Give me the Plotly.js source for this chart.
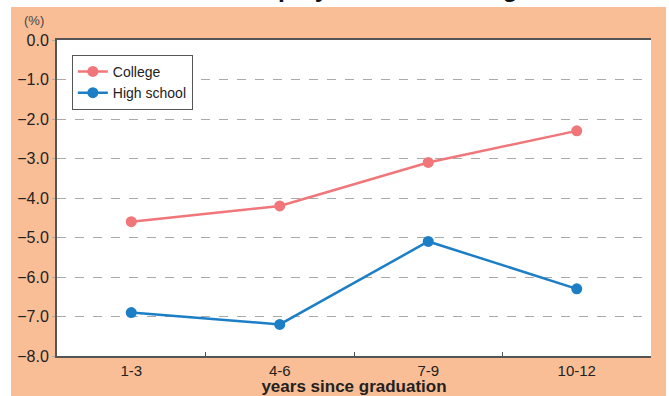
<!DOCTYPE html>
<html><head><meta charset="utf-8">
<script src="https://cdn.plot.ly/plotly-3.0.1.min.js"></script>
<style>body{margin:0;padding:0;background:#fff}#chart{width:669px;height:396px}</style>
</head><body><div id="chart"></div>
<script>
const categories = ["1-3", "4-6", "7-9", "10-12"];
const seriesNames = ["College", "High school"];
const college = [-4.6, -4.2, -3.1, -2.3];
const highSchool = [-6.9, -7.2, -5.1, -6.3];
const yTicks = [0, -1, -2, -3, -4, -5, -6, -7, -8];

const orange = "#FABE96";
const traces = [
  {x: categories, y: college, name: seriesNames[0], type: "scatter", mode: "lines+markers",
   line: {color: "#F0767A", width: 2.5}, marker: {color: "#F0767A", size: 11}},
  {x: categories, y: highSchool, name: seriesNames[1], type: "scatter", mode: "lines+markers",
   line: {color: "#1C7FC6", width: 2.5}, marker: {color: "#1C7FC6", size: 11}}
];
const font = "Liberation Sans, Arial, sans-serif";
const layout = {
  width: 669, height: 396,
  margin: {l: 57, r: 18, t: 40, b: 40},
  paper_bgcolor: "#ffffff",
  plot_bgcolor: "rgba(0,0,0,0)",
  font: {family: font, color: "#222"},
  showlegend: true,
  legend: {x: 0.025, y: 0.953, xanchor: "left", yanchor: "top", bgcolor: "#fff",
           bordercolor: "#555", borderwidth: 1, font: {size: 14, color: "#222"},
           tracegroupgap: 0, itemwidth: 30},
  xaxis: {type: "category", range: [-0.5, 3.5], showgrid: false, showline: true, linecolor: "#555", linewidth: 2,
          mirror: true, ticks: "inside", tickson: "boundaries", ticklen: 4, tickcolor: "#555",
          tickfont: {size: 15, color: "#222"},
          title: {text: "<b>years since graduation</b>", font: {size: 17, color: "#222"}, standoff: 0},
          zeroline: false, fixedrange: true},
  yaxis: {range: [-8, 0], tickvals: yTicks, tickformat: ".1f", showgrid: true,
          gridcolor: "#aaaaaa", griddash: "dash", gridwidth: 1,
          showline: true, linecolor: "#555", linewidth: 2, zeroline: false,
          ticks: "outside", ticklen: 3, tickcolor: "#aaa",
          tickfont: {size: 16, color: "#222"}, fixedrange: true},
  shapes: [
    {type: "rect", xref: "paper", yref: "paper", x0: -0.0774, x1: 1.0253, y0: -0.2, y1: 1.1044,
     fillcolor: orange, line: {width: 0}, layer: "below"},
    {type: "rect", xref: "paper", yref: "paper", x0: 0, x1: 1, y0: 0, y1: 1,
     fillcolor: "#ffffff", line: {width: 0}, layer: "below"}
  ],
  annotations: [
    {text: "(%)", xref: "paper", yref: "paper", x: -0.038, y: 1.063, xanchor: "center", yanchor: "middle",
     showarrow: false, font: {size: 13, color: "#444"}},
    {text: "<b>Unemployment rate change</b>", xref: "paper", yref: "paper", x: 0.255, y: 1.162,
     xanchor: "left", yanchor: "middle", showarrow: false, font: {size: 24.5, color: "#111"}}
  ]
};
Plotly.newPlot("chart", traces, layout, {displayModeBar: false, staticPlot: true});
</script></body></html>
